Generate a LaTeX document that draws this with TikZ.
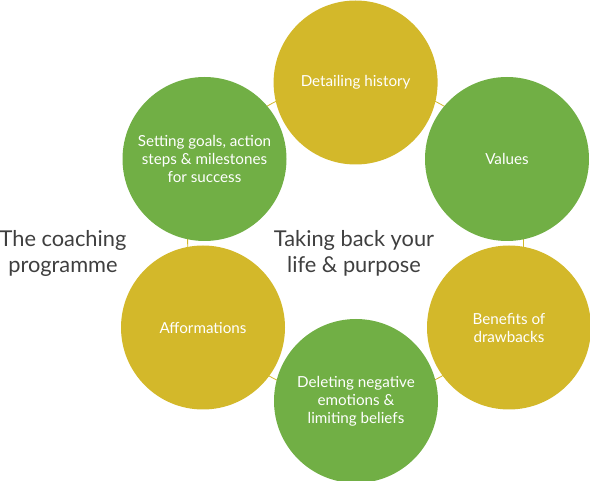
\documentclass[tikz,border=0pt]{standalone}
\usepackage{fontspec}
\setmainfont{Lato}
\definecolor{leaf}{HTML}{71AF45}
\definecolor{gold}{HTML}{D3B82A}
\definecolor{ink}{HTML}{3F3F3F}
\tikzset{
  bubble/.style={circle, minimum size=164pt, inner sep=0pt, text=white, align=center,
    font=\fontsize{15.2}{18}\selectfont},
  greenb/.style={bubble, fill=leaf},
  goldb/.style={bubble, fill=gold},
  ring/.style={draw=gold, line width=0.8pt},
  title/.style={text=ink, align=center, font=\fontsize{21.8}{26}\selectfont, inner sep=0pt}
}
\begin{document}
\begin{tikzpicture}[x=1pt,y=-1pt]
\useasboundingbox (0,0) rectangle (590,481);
\clip (0,0) rectangle (590,481);
\coordinate (mid) at (355.6,240.5);
\draw[ring] (mid) ellipse [x radius=168, y radius=158];
\node[goldb]  (hist) at (355.6,82.5) {Detailing history};
\node[greenb] (vals) at (507,159) {Values};
\node[goldb]  (bene) at (509,327.5) {Benefits of\\drawbacks};
\node[greenb] (dele) at (356,401) {Deleting negative\\emotions \&\\limiting beliefs};
\node[goldb]  (affo) at (203,327.5) {Afformations};
\node[greenb] (goal) at (204.5,159) {Setting goals, action\\steps \& milestones\\for success};
\node[title] (core) at (354,253) {Taking back your\\life \& purpose};
\node[title] (prog) at (63,253) {The coaching\\programme};
\end{tikzpicture}
\end{document}
